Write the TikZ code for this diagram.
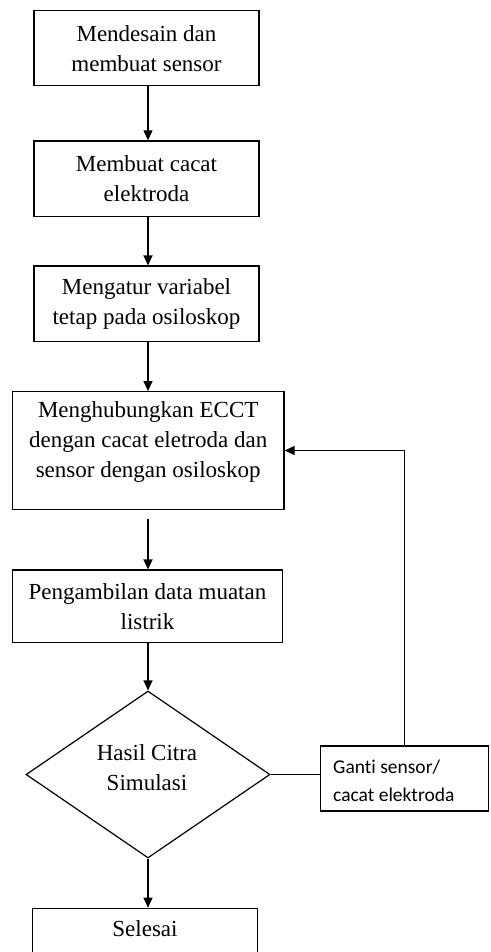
\documentclass[tikz,border=0pt]{standalone}
\usepackage{fontspec}
\setmainfont{Liberation Serif}
\newfontfamily\calfont[Ligatures=NoCommon]{Carlito}
\usetikzlibrary{shapes.geometric,arrows.meta,calc}
\begin{document}
\begin{tikzpicture}[x=1pt,y=-1pt,
  box/.style={draw=black, line width=1.2pt, rectangle, inner sep=0pt, align=center, font=\fontsize{23}{30}\selectfont},
  txt/.style={inner sep=0pt, align=center, font=\fontsize{23}{30}\selectfont},
  ctxt/.style={inner sep=0pt, align=left, anchor=west, font=\calfont\fontsize{19.5}{28.5}\selectfont},
  arr/.style={draw=black, line width=1.2pt, -{Triangle[length=10pt,width=9pt]}},
  ln/.style={draw=black, line width=1.2pt}]
\useasboundingbox (0,0) rectangle (490,952);
\clip (0,0) rectangle (490,952);
% main column
\node[box, minimum width=225pt, minimum height=75pt] (b1) at (146.5,48.2) {Mendesain dan\\membuat sensor};
\node[box, minimum width=225pt, minimum height=75.7pt] (b2) at (146.5,178.8) {Membuat cacat\\elektroda};
\node[box, minimum width=225pt, minimum height=75.3pt] (b3) at (146.5,303.7) {Mengatur variabel\\tetap pada osiloskop};
\node[box, minimum width=271.7pt, minimum height=117.6pt] (b4) at (148.2,450.5) {};
\node[txt] (t4) at (148.2,441.7) {Menghubungkan ECCT\\dengan cacat eletroda dan\\sensor dengan osiloskop};
\node[box, minimum width=270.4pt, minimum height=72.3pt] (b5) at (147.5,606.2) {Pengambilan data muatan\\listrik};
\node[draw=black, line width=1.2pt, diamond, inner sep=0pt, minimum width=244pt, minimum height=167pt] (d) at (148,774.5) {};
\node[txt] (td) at (147,768) {Hasil Citra\\Simulasi};
\node[box, minimum width=167.6pt, minimum height=65pt] (b6) at (404.5,778.5) {};
\node[ctxt] (t6) at (333,781) {Ganti sensor/\\cacat elektroda};
\node[box, minimum width=225.4pt, minimum height=80pt] (b7) at (145,948.3) {};
\node[txt] (t7) at (145,928.3) {Selesai};
% connectors
\draw[arr] (b1.south -| d.center) -- (b2.north -| d.center);
\draw[arr] (b2.south -| d.center) -- (b3.north -| d.center);
\draw[arr] (b3.south -| d.center) -- (b4.north -| d.center);
\draw[arr, shorten <=9pt] (b4.south -| d.center) -- (b5.north -| d.center);
\draw[arr] (b5.south -| d.center) -- (d.north);
\draw[arr] (d.south) -- (d.south |- b7.north);
\draw[ln] (d.east) -- (d.east -| b6.west);
\draw[arr] (b6.north) |- (b4.east);
\end{tikzpicture}
\end{document}
